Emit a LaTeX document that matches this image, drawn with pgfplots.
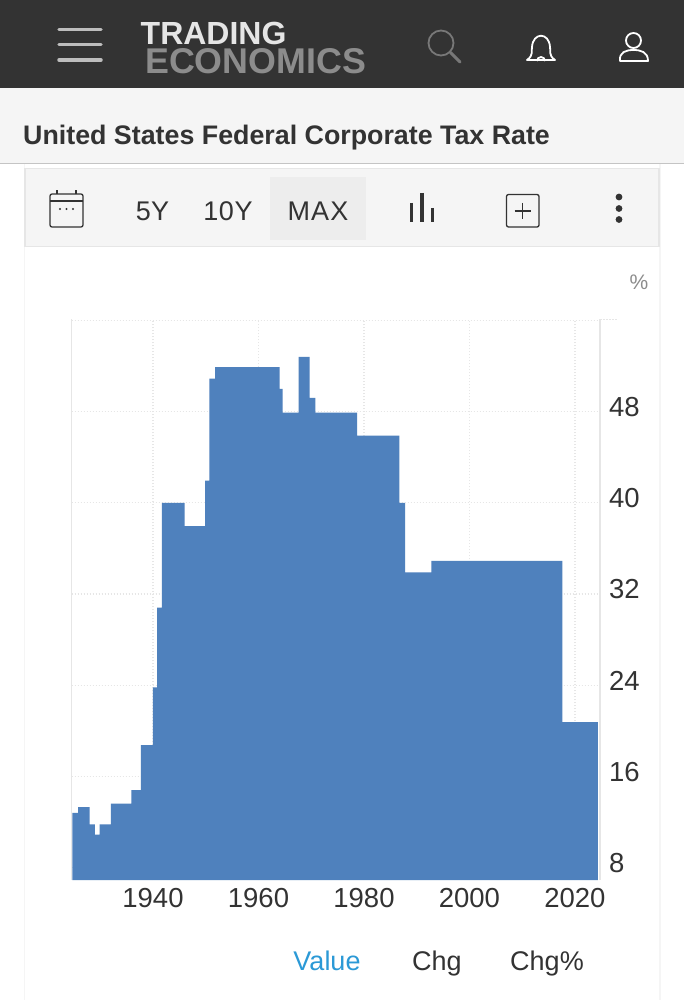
\documentclass[border=0pt]{standalone}
\usepackage{fontspec}
\setmainfont{Liberation Sans}
\usepackage{pgfplots}
\pgfplotsset{compat=1.18}
\definecolor{barblue}{HTML}{4F81BD}
\definecolor{headbg}{HTML}{333333}
\definecolor{strip}{HTML}{F5F5F5}
\definecolor{gridc}{HTML}{E6E6E6}
\definecolor{txt}{HTML}{333333}
\newcommand{\fs}[1]{\fontsize{#1}{#1}\selectfont}
\begin{document}
\begin{tikzpicture}
% page furniture, in reference pixels
\begin{scope}[x=1pt,y=-1pt]
\path[use as bounding box] (0,0) rectangle (684,1000);
\fill[white] (0,0) rectangle (684,1000);
\fill[headbg] (0,0) rectangle (684,88.5);
\fill[strip] (0,88.5) rectangle (684,163);
\draw[gridc!85!black,line width=1.2pt] (0,163.5) -- (684,163.5);
\draw[strip,line width=1.5pt] (24.5,164) -- (24.5,1000) (660,164) -- (660,1000);
% toolbar
\draw[gridc,fill=strip,line width=1.2pt] (25,168.5) rectangle (659,246.5);
\fill[gridc!70!white] (270,177) rectangle (366,240);
% menu
\draw[draw=white!74!black,line width=3.5pt,line cap=round] (59,29.5) -- (101,29.5) (59,44.5) -- (101,44.5) (59,60) -- (101,60);
% logo
\node[anchor=base west,inner sep=0pt,text=white!90!black] at (140.5,45) {\fs{32}\bfseries TRADING};
\node[anchor=base west,inner sep=0pt,text=white!55!black] at (145,74) {\fs{35.8}\bfseries ECONOMICS};
% search
\draw[white!47!black,line width=1.8pt] (441,43) circle (12.5);
\draw[white!47!black,line width=3pt,line cap=round] (450.5,52.5) -- (460,62);
% bell
\draw[white,line width=1.8pt,line join=round] (527,60) .. controls (534,55) and (531,51) .. (532,47) .. controls (533,32) and (549,32) .. (550,47) .. controls (551,51) and (548,55) .. (555,60) -- cycle;
\draw[white,line width=1.8pt] (537,61) arc (180:360:4);
% person
\draw[white,line width=1.8pt] (633.5,40.5) circle (7.5);
\draw[white,line width=1.8pt,line join=round] (620,61) .. controls (619,52) and (626,50) .. (633.5,50) .. controls (641,50) and (648,52) .. (648,61) -- cycle;
% title
\node[anchor=base west,inner sep=0pt,text=txt] at (23,145) {\fs{26.8}\bfseries United States Federal Corporate Tax Rate};
% toolbar items
\draw[txt,line width=1.3pt,rounded corners=2pt] (50,194) rectangle (83,227);
\draw[txt,line width=1.3pt] (50,201) -- (83,201) (57,190.5) -- (57,194) (76,190.5) -- (76,194);
\fill[txt] (60,209) circle (1.2) (66.5,209) circle (1.2) (73,209) circle (1.2);
\node[anchor=base,inner sep=0pt,text=txt] at (152.5,221) {\fs{27}5Y};
\node[anchor=base,inner sep=0pt,text=txt] at (228,221) {\fs{27}\addfontfeature{LetterSpace=2}10Y};
\node[anchor=base,inner sep=0pt,text=txt] at (318,221) {\fs{27}\addfontfeature{LetterSpace=4}MAX};
\draw[txt,line width=3.2pt] (411.5,203) -- (411.5,222) (422,193) -- (422,222) (432.5,208) -- (432.5,222);
\draw[txt,line width=1.3pt,rounded corners=2pt] (506.5,194.5) rectangle (539,227);
\draw[txt,line width=1.3pt] (514.5,211) -- (531,211) (522.7,203) -- (522.7,219);
\fill[txt] (619,197) circle (3.4) (619,208.5) circle (3.4) (619,219.5) circle (3.4);
% unit and table heads
\node[anchor=base,inner sep=0pt,text=white!55!black] at (639,289) {\fs{21}\%};
\node[anchor=base,inner sep=0pt,text={rgb,255:red,43;green,153;blue,214}] at (327,970) {\fs{27}Value};
\node[anchor=base,inner sep=0pt,text=txt] at (437,970) {\fs{27}Chg};
\node[anchor=base,inner sep=0pt,text=txt] at (547,970) {\fs{27}Chg\%};
% plot frame
\draw[gridc,line width=1.2pt] (71.5,319) -- (71.5,880) (600,319) -- (600,880);
\draw[gridc,line width=1.2pt,dash pattern=on 1.5pt off 1.5pt] (600,319.5) -- (618,319.5);
\end{scope}
\begin{axis}[
  at={(71.5pt,-880pt)}, anchor=south west,
  scale only axis, width=528.5pt, height=561pt,
  xmin=1924.55, xmax=2024.75,
  ymin=6.91, ymax=56.12,
  axis line style={draw=none},
  xtick={1940,1960,1980,2000,2020},
  xticklabel style={/pgf/number format/1000 sep={}, font=\fs{27.5}, text=txt, yshift=-8pt, inner sep=0pt},
  ytick={8,16,24,32,40,48,56},
  yticklabels={8,16,24,32,40,48,},
  yticklabel pos=right,
  yticklabel style={font=\fs{27.5}, text=txt, anchor=west, xshift=9pt, yshift=4.5pt, inner sep=0pt},
  /pgf/number format/assume math mode=true,
  tick style={draw=none},
  grid=major,
  grid style={gridc, line width=1.3pt, dash pattern=on 1.5pt off 1.5pt},
]
\addplot[const plot, fill=barblue, draw=none] coordinates {
  (1924.7,12.8) (1925.8,13.3) (1928,11.8) (1929,10.9) (1929.9,11.8)
  (1932,13.6) (1935.9,14.8) (1937.7,18.75) (1940,23.8) (1940.8,30.8)
  (1941.7,40) (1946,37.95) (1949.9,41.95) (1950.7,50.9) (1951.8,51.9)
  (1964,50) (1964.6,47.9) (1967.6,52.8) (1969.7,49.2) (1970.8,47.9)
  (1978.7,45.9) (1986.7,40) (1987.8,33.9) (1992.8,34.9) (2017.6,20.75)
  (2024.35,20.75)
} \closedcycle;
\end{axis}
\end{tikzpicture}
\end{document}
